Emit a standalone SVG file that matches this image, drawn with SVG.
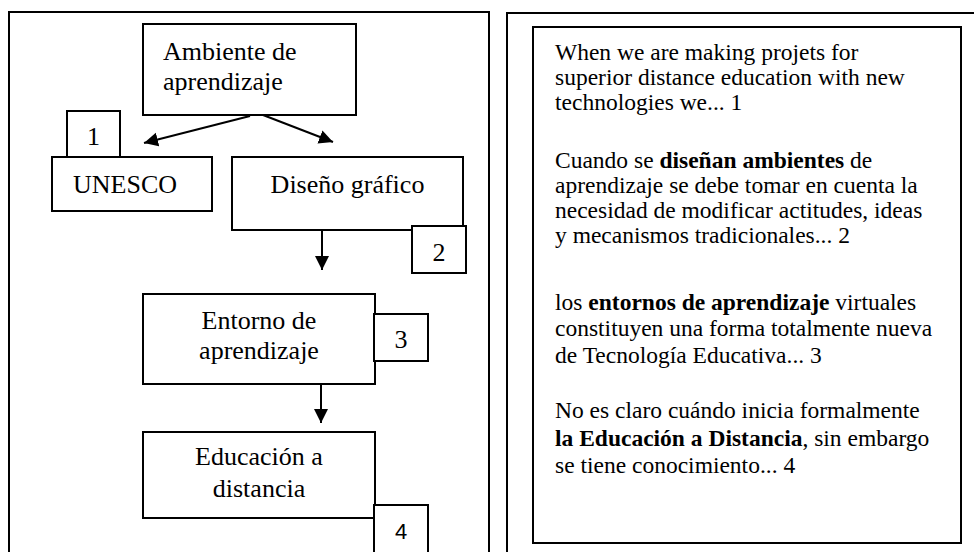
<svg xmlns="http://www.w3.org/2000/svg" width="974" height="552" viewBox="0 0 974 552">
<style>
.frame{fill:none;stroke:#000;stroke-width:2}
.box{fill:#fff;stroke:#000;stroke-width:2}
.t{font-family:"Liberation Serif","Times New Roman",serif;font-size:26px;fill:#000}
.c{text-anchor:middle}
.p{font-family:"Liberation Serif","Times New Roman",serif;font-size:23.5px;fill:#000}
.b{font-weight:bold}
.s{font-family:"Liberation Sans",Arial,sans-serif;font-size:22px;fill:#000;text-anchor:middle}
.conn{stroke:#000;stroke-width:2;fill:none;marker-end:url(#ah)}
</style>
<defs>
<marker id="ah" markerUnits="userSpaceOnUse" markerWidth="16" markerHeight="16" refX="14" refY="7" orient="auto">
<path d="M0,0 L14,7 L0,14 Z" fill="#000"/>
</marker>
</defs>
<rect width="974" height="552" fill="#fff"/>
<g id="frames">
<path class="frame" d="M9,560 V12 H489 V560"/>
<path class="frame" d="M507,560 V13 H980"/>
</g>
<g id="connectors">
<line class="conn" x1="250" y1="116" x2="144" y2="143"/>
<line class="conn" x1="263" y1="115" x2="333" y2="142"/>
<line class="conn" x1="322" y1="230" x2="322" y2="270"/>
<line class="conn" x1="321" y1="384" x2="321" y2="423"/>
</g>
<g id="ambiente">
<rect class="box" x="143" y="24" width="213" height="91"/>
<text class="t" x="163" y="60">Ambiente de</text>
<text class="t" x="163" y="90">aprendizaje</text>
</g>
<g id="label1">
<rect class="box" x="67" y="111" width="53" height="46"/>
<text class="t c" x="93.5" y="145">1</text>
</g>
<g id="unesco">
<rect class="box" x="52" y="157" width="160" height="54"/>
<text class="t" x="73" y="193">UNESCO</text>
</g>
<g id="diseno">
<rect class="box" x="232" y="157" width="231" height="73"/>
<text class="t c" x="347.5" y="193">Diseño gráfico</text>
</g>
<g id="label2">
<rect class="box" x="412" y="226" width="54" height="47"/>
<text class="t c" x="439" y="261">2</text>
</g>
<g id="entorno">
<rect class="box" x="143" y="294" width="232" height="90"/>
<text class="t c" x="259" y="329">Entorno de</text>
<text class="t c" x="259" y="359">aprendizaje</text>
</g>
<g id="label3">
<rect class="box" x="374" y="314" width="54" height="47"/>
<text class="t c" x="401" y="348">3</text>
</g>
<g id="educacion">
<rect class="box" x="143" y="432" width="232" height="86"/>
<text class="t c" x="259" y="465">Educación a</text>
<text class="t c" x="259" y="497">distancia</text>
</g>
<g id="label4">
<rect class="box" x="374" y="505" width="54" height="60"/>
<text class="s" x="401" y="539">4</text>
</g>
<g id="textbox">
<rect class="frame" x="533" y="27" width="428" height="516"/>
<text class="p" x="555" y="60">When we are making projets for</text>
<text class="p" x="555" y="85">superior distance education with new</text>
<text class="p" x="555" y="110">technologies we... 1</text>
<text class="p" x="555" y="168">Cuando se <tspan class="b">diseñan ambientes</tspan> de</text>
<text class="p" x="555" y="193">aprendizaje se debe tomar en cuenta la</text>
<text class="p" x="555" y="218">necesidad de modificar actitudes, ideas</text>
<text class="p" x="555" y="243">y mecanismos tradicionales... 2</text>
<text class="p" x="555" y="310">los <tspan class="b">entornos de aprendizaje</tspan> virtuales</text>
<text class="p" x="555" y="336">constituyen una forma totalmente nueva</text>
<text class="p" x="555" y="363">de Tecnología Educativa... 3</text>
<text class="p" x="555" y="418">No es claro cuándo inicia formalmente</text>
<text class="p" x="555" y="446"><tspan class="b">la Educación a Distancia</tspan>, sin embargo</text>
<text class="p" x="555" y="473">se tiene conocimiento... 4</text>
</g>
</svg>
